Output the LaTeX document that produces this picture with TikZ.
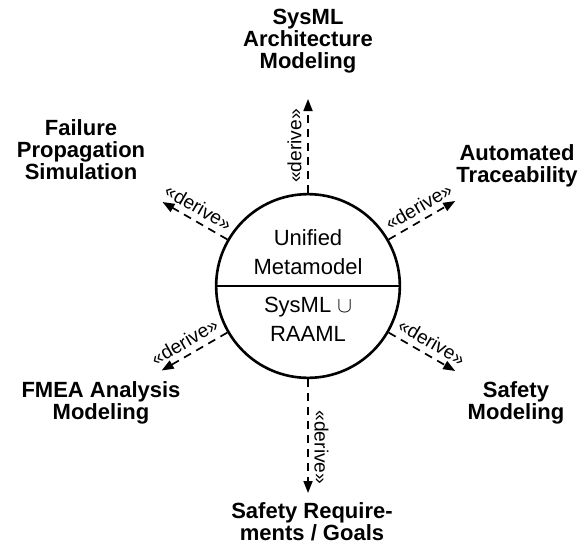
\documentclass[tikz,border=0pt]{standalone}
\usepackage{fontspec}
\setmainfont{Liberation Sans}
\usepackage{tikz}
\usetikzlibrary{positioning,arrows.meta,shapes.multipart}

\begin{document}
\begin{tikzpicture}[
  x=0.5pt, y=0.5pt,
  target/.style={font=\fontsize{11}{11}\selectfont\bfseries, align=center, inner sep=0pt},
  deriv/.style={font=\fontsize{9.6}{10}\selectfont, sloped, above, inner sep=2.8pt},
  flow/.style={draw, line width=0.85pt, dash pattern=on 4pt off 3pt, -{Triangle[length=6pt,width=4.5pt]}}
]
\useasboundingbox (-308,-266) rectangle (279,286);
\node[circle split, draw, line width=1.3pt, minimum size=79pt, inner sep=4.8pt,
  font=\fontsize{11}{14.5}\selectfont, align=center] (um) at (0,0)
  {Unified\\Metamodel \nodepart{lower} SysML $\cup$\\RAAML};
% tips of the derive arrows
\coordinate (tArch) at (90:187);
\coordinate (tTrace) at (30:170);
\coordinate (tFail) at (150:168);
\coordinate (tFmea) at (210:169);
\coordinate (tSafety) at (330:170);
\coordinate (tReq) at (270:207);
% targets
\node[target] (arch) at (0,245) {SysML\\Architecture\\Modeling};
\node[target] (fail) at (-227,136) {Failure\\Propagation\\Simulation};
\node[target] (trace) at (209,120) {Automated\\Traceability};
\node[target] (fmea) at (-207,-117) {FMEA Analysis\\Modeling};
\node[target] (safety) at (208,-117) {Safety\\Modeling};
\node[target] (req) at (4,-236) {Safety Require-\\ments / Goals};
\draw[flow] (um.90) -- node[deriv, pos=0.5] {«derive»} (tArch);
\draw[flow] (um.30) -- node[deriv, pos=0.55] {«derive»} (tTrace);
\draw[flow] (um.150) -- node[deriv, pos=0.55] {«derive»} (tFail);
\draw[flow] (um.210) -- node[deriv, pos=0.55] {«derive»} (tFmea);
\draw[flow] (um.330) -- node[deriv, pos=0.55] {«derive»} (tSafety);
\draw[flow] (um.270) -- node[deriv, pos=0.6] {«derive»} (tReq);
\end{tikzpicture}
\end{document}
